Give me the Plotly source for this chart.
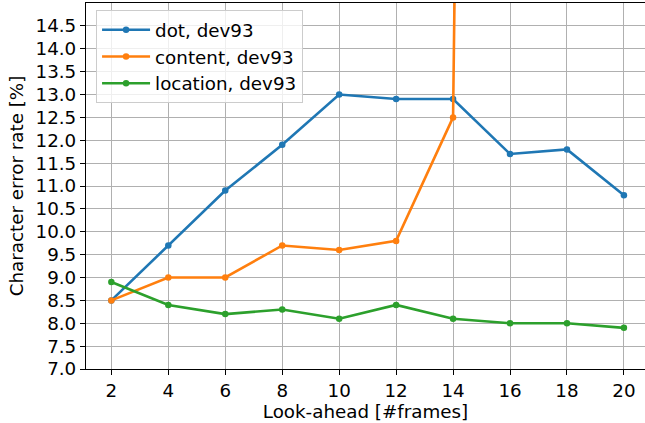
import plotly.graph_objects as go

lookahead = [2, 4, 6, 8, 10, 12, 14, 16, 18, 20]
dot_cer = [8.5, 9.7, 10.9, 11.9, 13.0, 12.9, 12.9, 11.7, 11.8, 10.8]
content_x = [2, 4, 6, 8, 10, 12, 14, 16]
content_cer = [8.5, 9.0, 9.0, 9.7, 9.6, 9.8, 12.5, 115.0]
location_cer = [8.9, 8.4, 8.2, 8.3, 8.1, 8.4, 8.1, 8.0, 8.0, 7.9]

y_ticks = [7.0 + 0.5 * i for i in range(16)]
y_ticklabels = [f"{v:.1f}" for v in y_ticks]

FONT = "DejaVu Sans"
FS = 18.3
fig = go.Figure()
series = [
    ("dot, dev93", lookahead, dot_cer, "#1f77b4"),
    ("content, dev93", content_x, content_cer, "#ff7f0e"),
    ("location, dev93", lookahead, location_cer, "#2ca02c"),
]
for i, (name, xs, ys, col) in enumerate(series):
    fig.add_trace(go.Scatter(
        x=xs, y=ys, name=name, mode="lines+markers",
        line=dict(color=col, width=2.6),
        marker=dict(color=col, size=6.5),
        legendgroup=f"g{i}",
        cliponaxis=True,
    ))

fig.update_layout(
    width=645, height=423,
    margin=dict(l=86, r=0, t=3, b=54),
    plot_bgcolor="white", paper_bgcolor="white",
    font=dict(family=FONT, size=FS, color="black"),
    showlegend=True,
    legend=dict(
        x=0.018, y=0.98, xanchor="left", yanchor="top",
        bgcolor="rgba(255,255,255,0.8)", bordercolor="#cccccc", borderwidth=1,
        font=dict(family=FONT, size=FS, color="black"),
        traceorder="grouped", tracegroupgap=0,
        itemwidth=48,
    ),
    xaxis=dict(
        range=[1.11, 20.74], tickvals=lookahead,
        ticktext=[str(v) for v in lookahead],
        showgrid=True, gridcolor="#b0b0b0", gridwidth=1,
        showline=True, linecolor="black", linewidth=1.2, mirror=True,
        ticks="outside", ticklen=5, tickcolor="black", tickwidth=1,
        zeroline=False,
        title=dict(text="Look-ahead [#frames]", standoff=4,
                   font=dict(family=FONT, size=FS)),
    ),
    yaxis=dict(
        range=[7.0, 15.0], tickvals=y_ticks, ticktext=y_ticklabels,
        showgrid=True, gridcolor="#b0b0b0", gridwidth=1,
        showline=True, linecolor="black", linewidth=1.2, mirror=False,
        ticks="outside", ticklen=5, tickcolor="black", tickwidth=1,
        zeroline=False,
        title=dict(text="Character error rate [%]", standoff=7,
                   font=dict(family=FONT, size=FS)),
    ),
)

fig.write_html("out.html", config={"displayModeBar": False},
               post_script="document.body.style.margin='0px';")
